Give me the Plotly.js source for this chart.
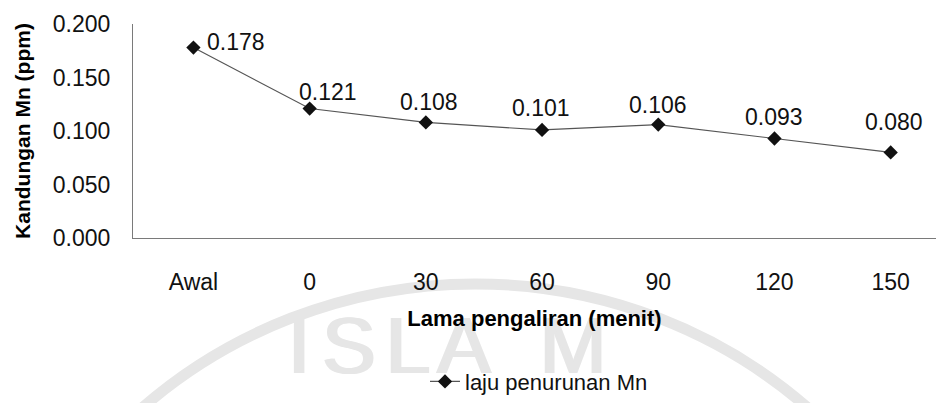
<!DOCTYPE html>
<html>
<head>
<meta charset="utf-8">
<script src="https://cdn.plot.ly/plotly-3.0.1.min.js"></script>
<style>
  html, body { margin: 0; padding: 0; background: #ffffff; }
  #chart { width: 936px; height: 403px; }
</style>
</head>
<body>
<div id="chart"></div>
<script>
// Kandungan Mn selama pengaliran
const categories = ['Awal', '0', '30', '60', '90', '120', '150'];
const mnValues = [0.178, 0.121, 0.108, 0.101, 0.106, 0.093, 0.080];
const yTickValues = [0, 0.05, 0.10, 0.15, 0.20];
const yTickLabels = ['0.000', '0.050', '0.100', '0.150', '0.200'];
const seriesName = 'laju penurunan Mn';

// label placement next to each point (pixels)
const labelShiftX = [43, 18, 3, -1, 0, 0, 3];
const labelShiftY = [6, 17, 20, 22, 20, 21, 30];

const W = 936, H = 403;
const M = { l: 133, r: 0, t: 24, b: 160 };
const plotW = W - M.l - M.r, plotH = H - M.t - M.b;
const px = x => (x - M.l) / plotW;
const py = y => (H - M.b - y) / plotH;

const FONT = 'Liberation Sans, Arial, Helvetica, sans-serif';
const WM = '#e6e6e6';

const trace = {
  type: 'scatter',
  mode: 'lines+markers',
  name: seriesName,
  x: categories,
  y: mnValues,
  line: { color: '#555555', width: 1.2 },
  marker: { symbol: 'diamond', size: 11, color: '#111111' },
  hoverinfo: 'x+y'
};

// value labels, positioned by category index on the category axis
const labelAnnotations = mnValues.map((v, i) => ({
  x: i, y: v, xref: 'x', yref: 'y',
  text: v.toFixed(3), showarrow: false,
  xanchor: 'center', yanchor: 'middle',
  xshift: labelShiftX[i], yshift: labelShiftY[i],
  font: { family: FONT, size: 23, color: '#111111' }
}));

// faint emblem behind the lower part of the page
const wmLetters = [['I', 299], ['S', 349], ['L', 408], ['A', 464], ['M', 573]];
const wmStroke = [-1.5, 0, 1.5];   // repeated draws give the letters a heavier stroke
const wmShapes = [{
  type: 'circle', xref: 'paper', yref: 'paper', layer: 'below',
  x0: px(475 - 500), x1: px(475 + 500), y0: py(790 + 500), y1: py(790 - 500),
  line: { color: WM, width: 11 }, fillcolor: 'rgba(0,0,0,0)'
}];
wmLetters.forEach(([ch, cx]) => wmStroke.forEach(d => wmShapes.push({
  type: 'rect', xref: 'paper', yref: 'paper', layer: 'below',
  x0: px(cx + d - 40), x1: px(cx + d + 40), y0: py(345 + 40), y1: py(345 - 40),
  line: { width: 0 }, fillcolor: 'rgba(0,0,0,0)',
  label: { text: ch, textposition: 'middle center',
           font: { family: FONT, size: 80, color: WM } }
})));

const layout = {
  width: W, height: H,
  margin: M,
  paper_bgcolor: '#ffffff',
  plot_bgcolor: 'rgba(0,0,0,0)',
  font: { family: FONT, size: 23, color: '#111111' },
  showlegend: true,
  legend: {
    orientation: 'h', x: px(425), xanchor: 'left', y: py(390), yanchor: 'middle',
    font: { family: FONT, size: 22, color: '#111111' }, bgcolor: 'rgba(0,0,0,0)'
  },
  xaxis: {
    type: 'category', range: [-0.52, 6.39],
    showline: true, linecolor: '#7a7a7a', linewidth: 1,
    showgrid: false, zeroline: false, ticks: '', ticklabelstandoff: 23,
    tickfont: { family: FONT, size: 23, color: '#111111' },
    title: { text: 'Lama pengaliran (menit)', standoff: 17,
             font: { family: FONT, size: 22, color: '#000000', weight: 'bold' } }
  },
  yaxis: {
    range: [0, 0.2], tickvals: yTickValues, ticktext: yTickLabels,
    showline: true, linecolor: '#7a7a7a', linewidth: 1,
    showgrid: false, zeroline: false, ticks: '', ticklabelstandoff: 17,
    tickfont: { family: FONT, size: 23, color: '#111111' },
    title: { text: 'Kandungan Mn (ppm)', standoff: 16,
             font: { family: FONT, size: 21, color: '#000000', weight: 'bold' } }
  },
  shapes: wmShapes,
  annotations: labelAnnotations
};

Plotly.newPlot('chart', [trace], layout, { displayModeBar: false, staticPlot: true });
</script>
</body>
</html>
